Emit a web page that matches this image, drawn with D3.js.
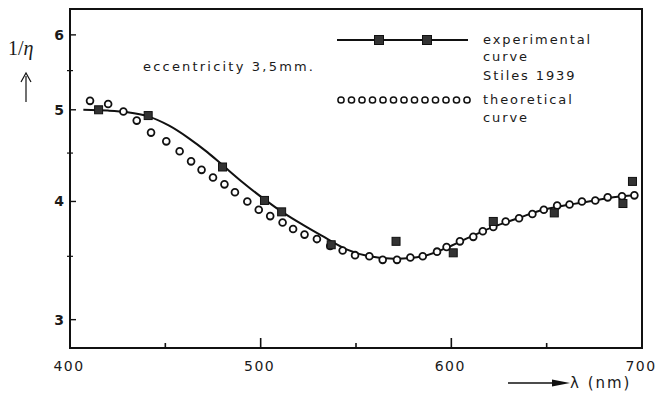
<!DOCTYPE html>
<html>
<head>
<meta charset="utf-8">
<script src="https://cdn.jsdelivr.net/npm/d3@7"></script>
<style>
  body { margin: 0; background: #fff; }
  text { fill: #1a1a1a; }
  .lbl { font-family: "DejaVu Sans", sans-serif; }
</style>
</head>
<body>
<script>
var w = 659;
var h = 393;

// experimental curve (Stiles 1939), smooth line
var expCurveWl  = [407, 420, 430, 441, 452, 462, 472, 480, 490, 502, 512, 522, 532, 545, 557, 570, 585, 597, 610, 622, 635, 648, 662, 675, 689, 697];
var expCurveVal = [5.0, 4.99, 4.97, 4.92, 4.81, 4.67, 4.51, 4.37, 4.2, 4.02, 3.89, 3.78, 3.68, 3.56, 3.5, 3.48, 3.5, 3.57, 3.67, 3.76, 3.84, 3.92, 3.97, 4.01, 4.05, 4.06];

// experimental points (filled squares)
var expPointWl  = [415, 441, 480, 502, 511, 537, 571, 601, 622, 654, 690, 695];
var expPointVal = [5.0, 4.93, 4.35, 4.01, 3.9, 3.6, 3.63, 3.53, 3.81, 3.89, 3.98, 4.2];

// theoretical curve (open circles)
var theoryWl  = [410.5, 420, 428, 435, 442.5, 450.5, 457.5, 463.5, 469, 475, 481, 486.5, 493, 499, 505, 511.5, 517, 523, 529.5, 536.5, 543, 549.5, 557, 564, 571.5, 578.5, 585, 592.5, 597.5, 604.5, 611.5, 616.5, 622, 628.5, 635.5, 642.5, 648.5, 655.5, 662, 668.5, 675.5, 682, 689.5, 696];
var theoryVal = [5.11, 5.07, 4.98, 4.87, 4.73, 4.63, 4.52, 4.41, 4.32, 4.24, 4.17, 4.09, 4.0, 3.92, 3.86, 3.8, 3.74, 3.69, 3.65, 3.59, 3.55, 3.51, 3.5, 3.47, 3.47, 3.49, 3.5, 3.54, 3.58, 3.63, 3.67, 3.72, 3.76, 3.81, 3.84, 3.88, 3.92, 3.96, 3.97, 4.0, 4.01, 4.04, 4.05, 4.06];

var xMajor = [400, 500, 600, 700];
var xMinor = [450, 550, 650];
var yMajor = [3, 4, 5, 6];
var yMinor = [3.5, 4.5, 5.5];

// plot frame ("top" is a window global, so keep edges in one object)
var frame = { l: 70, r: 642, t: 9, b: 348 };

var x = d3.scaleLinear().domain([400, 700]).range([frame.l, frame.r]);
var y = d3.scaleLog().domain([2.8, 6.39]).range([frame.b, frame.t]);

var svg = d3.select("body").append("svg").attr("width", w).attr("height", h);

// frame
svg.append("rect")
  .attr("x", frame.l).attr("y", frame.t)
  .attr("width", frame.r - frame.l).attr("height", frame.b - frame.t)
  .attr("fill", "none").attr("stroke", "#111").attr("stroke-width", 2);

// x ticks (inward)
svg.selectAll(".xt").data(xMajor.slice(1, 3)).enter().append("line")
  .attr("x1", function(d) { return x(d); }).attr("x2", function(d) { return x(d); })
  .attr("y1", frame.b).attr("y2", frame.b - 10)
  .attr("stroke", "#111").attr("stroke-width", 1.6);
svg.selectAll(".xm").data(xMinor).enter().append("line")
  .attr("x1", function(d) { return x(d); }).attr("x2", function(d) { return x(d); })
  .attr("y1", frame.b).attr("y2", frame.b - 5)
  .attr("stroke", "#111").attr("stroke-width", 1.6);

svg.selectAll(".xl").data(xMajor).enter().append("text")
  .attr("class", "lbl")
  .attr("x", function(d) { return x(d) - 1; })
  .attr("y", 371)
  .attr("text-anchor", "middle")
  .style("font-size", "14px").style("letter-spacing", "1.5px")
  .text(function(d) { return d; });

// y ticks
svg.selectAll(".yt").data(yMajor).enter().append("line")
  .attr("x1", frame.l).attr("x2", frame.l + 6)
  .attr("y1", function(d) { return y(d); }).attr("y2", function(d) { return y(d); })
  .attr("stroke", "#111").attr("stroke-width", 1.4);
svg.selectAll(".ym").data(yMinor).enter().append("line")
  .attr("x1", frame.l - 3).attr("x2", frame.l + 3)
  .attr("y1", function(d) { return y(d); }).attr("y2", function(d) { return y(d); })
  .attr("stroke", "#111").attr("stroke-width", 1.2);

svg.selectAll(".yl").data(yMajor).enter().append("text")
  .attr("class", "lbl")
  .attr("x", 59)
  .attr("y", function(d) { return y(d) + 5; })
  .attr("text-anchor", "middle")
  .style("font-size", "14px").style("font-weight", "bold")
  .text(function(d) { return d; });

// y axis title 1/eta with arrow
svg.append("text")
  .attr("x", 8).attr("y", 55)
  .style("font-family", "'Liberation Serif', serif").style("font-size", "20px")
  .html("1/<tspan font-style='italic'>η</tspan>");
svg.append("line")
  .attr("x1", 26).attr("x2", 26).attr("y1", 102).attr("y2", 76)
  .attr("stroke", "#111").attr("stroke-width", 1.2);
svg.append("path")
  .attr("d", "M21,82 L26,73 L31,82")
  .attr("fill", "none").attr("stroke", "#111").attr("stroke-width", 1.2);

// x axis title with arrow
svg.append("line")
  .attr("x1", 508).attr("x2", 562).attr("y1", 383).attr("y2", 383)
  .attr("stroke", "#111").attr("stroke-width", 1.4);
svg.append("path")
  .attr("d", "M552,379.5 L570,383 L552,386.5 Z")
  .attr("fill", "#111");
svg.append("text")
  .attr("class", "lbl")
  .attr("x", 570).attr("y", 388)
  .style("font-size", "15px").style("letter-spacing", "2px")
  .text("λ (nm)");

// annotation
svg.append("text")
  .attr("class", "lbl")
  .attr("x", 143).attr("y", 71)
  .style("font-size", "13px").style("letter-spacing", "2.2px")
  .text("eccentricity 3,5mm.");

// experimental curve
var line = d3.line()
  .x(function(d, i) { return x(expCurveWl[i]); })
  .y(function(d) { return y(d); })
  .curve(d3.curveCatmullRom);

svg.append("path")
  .datum(expCurveVal)
  .attr("d", line)
  .attr("fill", "none").attr("stroke", "#111").attr("stroke-width", 2);

// theoretical circles
svg.selectAll(".th").data(theoryVal).enter().append("circle")
  .attr("cx", function(d, i) { return x(theoryWl[i]); })
  .attr("cy", function(d) { return y(d); })
  .attr("r", 3.4)
  .attr("fill", "#fff").attr("stroke", "#111").attr("stroke-width", 1.8);

// experimental squares
svg.selectAll(".ex").data(expPointVal).enter().append("rect")
  .attr("x", function(d, i) { return x(expPointWl[i]) - 4; })
  .attr("y", function(d) { return y(d) - 4; })
  .attr("width", 8).attr("height", 8)
  .attr("fill", "#333").attr("stroke", "#111").attr("stroke-width", 1);

// legend
var lg = svg.append("g");
lg.append("line")
  .attr("x1", 337).attr("x2", 468).attr("y1", 40).attr("y2", 40)
  .attr("stroke", "#111").attr("stroke-width", 2);
lg.selectAll("rect").data([379, 427]).enter().append("rect")
  .attr("x", function(d) { return d - 4.5; }).attr("y", 35.5)
  .attr("width", 9).attr("height", 9)
  .attr("fill", "#333").attr("stroke", "#111");
lg.selectAll("circle").data(d3.range(13)).enter().append("circle")
  .attr("cx", function(d) { return 341 + d * 10.5; }).attr("cy", 100)
  .attr("r", 3.1)
  .attr("fill", "#fff").attr("stroke", "#111").attr("stroke-width", 1.5);

var legendLines = [["experimental", 44], ["curve", 61], ["Stiles  1939", 80], ["theoretical", 104], ["curve", 122]];
lg.selectAll("text").data(legendLines).enter().append("text")
  .attr("class", "lbl")
  .attr("x", 483)
  .attr("y", function(d) { return d[1]; })
  .style("font-size", "13px").style("letter-spacing", "1.9px")
  .text(function(d) { return d[0]; });
</script>
</body>
</html>
